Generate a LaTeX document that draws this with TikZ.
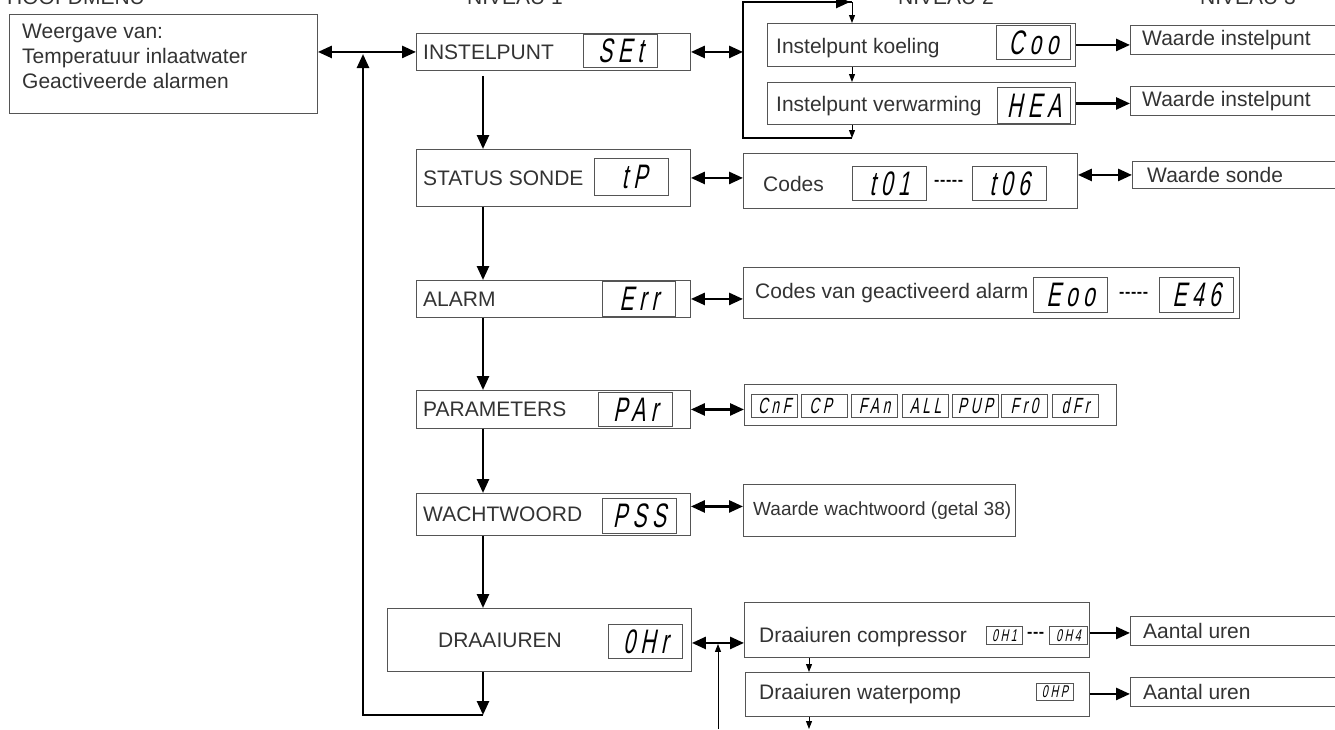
\documentclass[tikz,border=0pt]{standalone}
\usepackage{fontspec}
\setmainfont{Liberation Sans}
\newfontfamily\segfont[FakeSlant=0.2,FakeStretch=0.62,LetterSpace=16]{Liberation Sans}
\usetikzlibrary{arrows.meta,positioning}
\definecolor{boxgray}{HTML}{555555}
\definecolor{txtgray}{HTML}{333333}
\newcommand{\segdash}[1]{\foreach \k in {1,...,#1}{-\kern0.6pt}}
\tikzset{
  box/.style={draw=boxgray,line width=0.9pt,inner sep=0pt,anchor=north west},
  lbl/.style={text=txtgray,inner sep=0pt,font=\fontsize{21}{25}\selectfont},
  lblm/.style={lbl,font=\fontsize{19}{23}\selectfont},
  dashlbl/.style={lbl,text=black,font=\bfseries\fontsize{16}{16}\selectfont},
  disp/.style={draw=boxgray,line width=0.9pt,inner sep=0pt,anchor=north west,text=black,font=\segfont\fontsize{34}{34}\selectfont},
  dispm/.style={disp,font=\segfont\fontsize{22}{22}\selectfont},
  disps/.style={disp,font=\segfont\fontsize{17}{17}\selectfont},
  bigline/.style={line width=2.6pt},
  big/.style={bigline,-{Triangle[length=14pt,width=12pt]}},
  both/.style={bigline,{Triangle[length=14pt,width=12pt]}-{Triangle[length=14pt,width=12pt]}},
  thin/.style={line width=1pt,-{Triangle[length=8pt,width=6pt]}}
}
\begin{document}
\begin{tikzpicture}[x=1pt,y=-1pt]
\useasboundingbox (0,0) rectangle (1335,729);

\node[lbl,anchor=base west] (hhoofd) at (7,4) {HOOFDMENU};
\node[lbl,anchor=base] (hniv1) at (515,4) {NIVEAU 1};
\node[lbl,anchor=base] (hniv2) at (946,4) {NIVEAU 2};
\node[lbl,anchor=base] (hniv3) at (1248,4) {NIVEAU 3};

\node[box,minimum width=308,minimum height=99] (hoofd) at (9,14) {};
\node[lbl,anchor=north west,align=left] (hoofdtxt) at (22,24) {Weergave van:\\Temperatuur inlaatwater\\Geactiveerde alarmen};

\node[box,minimum width=274,minimum height=37] (instel) at (416,33) {};
\node[lbl,right=7pt of instel.west] (instellbl) {INSTELPUNT};
\node[disp,minimum width=74,minimum height=33] (dset) at (583,34) {SEt};

\node[box,minimum width=274,minimum height=57] (sonde) at (416,149) {};
\node[lbl,right=7pt of sonde.west] (sondelbl) {STATUS SONDE};
\node[disp,minimum width=74,minimum height=37] (dtp) at (594,158) {\hphantom{t}tP};

\node[box,minimum width=274,minimum height=37] (alarm) at (416,280) {};
\node[lbl,right=7pt of alarm.west] (alarmlbl) {ALARM};
\node[disp,minimum width=73,minimum height=35] (derr) at (602,281) {Err};

\node[box,minimum width=274,minimum height=38] (param) at (416,390) {};
\node[lbl,right=7pt of param.west] (paramlbl) {PARAMETERS};
\node[disp,minimum width=74,minimum height=34] (dpar) at (598,392) {PAr};

\node[box,minimum width=274,minimum height=42] (wacht) at (416,493) {};
\node[lbl,right=7pt of wacht.west] (wachtlbl) {WACHTWOORD};
\node[disp,minimum width=74,minimum height=35] (dpss) at (602,498) {PSS};

\node[box,minimum width=304,minimum height=63] (draai) at (387,608) {};
\node[lbl] (draailbl) at (500,640) {DRAAIUREN};
\node[disp,minimum width=74,minimum height=34] (dohr) at (608,624) {0Hr};

\node[box,minimum width=308,minimum height=43] (koel) at (767,23) {};
\node[lbl,right=9pt of koel.west,yshift=-3pt] (koellbl) {Instelpunt koeling};
\node[disp,minimum width=74,minimum height=34] (dcoo) at (996,25) {Coo};

\node[box,minimum width=308,minimum height=42] (verw) at (767,82) {};
\node[lbl,right=9pt of verw.west,yshift=-3pt] (verwlbl) {Instelpunt verwarming};
\node[disp,minimum width=73,minimum height=36] (dhea) at (997,87) {HEA};

\node[box,minimum width=334,minimum height=55] (codes) at (743,153) {};
\node[lbl,right=20pt of codes.west,yshift=-3pt] (codeslbl) {Codes};
\node[disp,minimum width=74,minimum height=34] (dt01) at (852,166) {t01};
\node[disp,minimum width=74,minimum height=34] (dt06) at (972,166) {t06};
\node[dashlbl] (dash1) at (949,183) {\segdash{5}};

\node[box,minimum width=496,minimum height=51] (alcodes) at (743,267) {};
\node[lbl,right=12pt of alcodes.west] (alcodeslbl) {Codes van geactiveerd alarm};
\node[disp,minimum width=74,minimum height=35] (deoo) at (1033,277) {Eoo};
\node[disp,minimum width=74,minimum height=35] (de46) at (1159,277) {E46};
\node[dashlbl] (dash2) at (1134,295) {\segdash{5}};

\node[box,minimum width=372,minimum height=41] (parcodes) at (744,384) {};
\node[dispm,minimum width=46,minimum height=23] (pcnf) at (751,394) {CnF};
\node[dispm,minimum width=46,minimum height=23] (pcp) at (801,394) {CP\hphantom{n}};
\node[dispm,minimum width=46,minimum height=23] (pfan) at (851,394) {FAn};
\node[dispm,minimum width=46,minimum height=23] (pall) at (902,394) {ALL};
\node[dispm,minimum width=46,minimum height=23] (ppup) at (952,394) {PUP};
\node[dispm,minimum width=46,minimum height=23] (pfro) at (1001,394) {Fr0};
\node[dispm,minimum width=46,minimum height=23] (pdfr) at (1052,394) {dFr};

\node[box,minimum width=272,minimum height=52] (wwaarde) at (743,484) {};
\node[lblm,right=10pt of wwaarde.west] (wwaardelbl) {Waarde wachtwoord (getal 38)};

\node[box,minimum width=345,minimum height=55] (comp) at (744,602) {};
\node[lbl,right=15pt of comp.west,yshift=-7pt] (complbl) {Draaiuren compressor};
\node[disps,minimum width=36,minimum height=18] (doh1) at (986,626) {0H1};
\node[disps,minimum width=38,minimum height=18] (doh4) at (1049,626) {0H4};
\node[dashlbl] (dash3) at (1036,635) {\segdash{3}};

\node[box,minimum width=344,minimum height=44] (pomp) at (745,672) {};
\node[lbl,right=14pt of pomp.west] (pomplbl) {Draaiuren waterpomp};
\node[disps,minimum width=37,minimum height=17] (dohp) at (1036,683) {0HP};

\node[box,minimum width=215,minimum height=29] (wi1) at (1130,25) {};
\node[lbl,right=12pt of wi1.west] (wi1lbl) {Waarde instelpunt};
\node[box,minimum width=215,minimum height=29] (wi2) at (1130,86) {};
\node[lbl,right=12pt of wi2.west] (wi2lbl) {Waarde instelpunt};
\node[box,minimum width=213,minimum height=27] (wsonde) at (1132,161) {};
\node[lbl,right=15pt of wsonde.west] (wsondelbl) {Waarde sonde};
\node[box,minimum width=215,minimum height=29] (uren1) at (1130,616) {};
\node[lbl,right=13pt of uren1.west] (uren1lbl) {Aantal uren};
\node[box,minimum width=215,minimum height=29] (uren2) at (1130,677) {};
\node[lbl,right=13pt of uren2.west] (uren2lbl) {Aantal uren};

\coordinate (spine) at (483,0);
\coordinate (loopc) at (483,715);
\coordinate (loopl) at (363,715);
\coordinate (junct) at (363,54);
\coordinate (brtop) at (743,2);
\coordinate (brbot) at (743,138);
\coordinate (tapt) at (852,2);
\coordinate (tapb) at (852,138);
\coordinate (ctap) at (809,0);
\coordinate (hbot) at (718,729);
\coordinate (pbot) at (809,729);

\draw[both] (instel.west -| hoofd.east) -- (instel.west);
\draw[big] (loopc) -- (loopl) -- (junct);
\draw[big] ([yshift=-5pt]instel.south -| spine) -- (sonde.north -| spine);
\draw[big] (sonde.south -| spine) -- (alarm.north -| spine);
\draw[big] (alarm.south -| spine) -- (param.north -| spine);
\draw[big] (param.south -| spine) -- (wacht.north -| spine);
\draw[big] (wacht.south -| spine) -- (draai.north -| spine);
\draw[big] (draai.south -| spine) -- (loopc);

\draw[both] (instel.east) -- (instel.east -| brtop);
\draw[bigline] (tapb) -- (brbot) -- (brtop) -- (tapt);
\draw[big] (brtop) -- ([xshift=-2pt]tapt);
\draw[thin] (tapt) -- (koel.north -| tapt);
\draw[thin] (koel.south -| tapt) -- (verw.north -| tapt);
\draw[thin] (verw.south -| tapt) -- (tapb);
\draw[big] (koel.east) -- (koel.east -| wi1.west);
\draw[big] (verw.east) -- (verw.east -| wi2.west);

\draw[both] (sonde.east) -- (sonde.east -| codes.west);
\draw[both] (wsonde.west -| codes.east) -- (wsonde.west);
\draw[both] (alarm.east) -- (alarm.east -| alcodes.west);
\draw[both] (param.east) -- (param.east -| parcodes.west);
\draw[both] ([yshift=4pt]wwaarde.west -| wacht.east) -- ([yshift=4pt]wwaarde.west);

\draw[both] ([yshift=-3pt]draai.east) -- ([yshift=-3pt]draai.east -| comp.west);
\draw[thin] (hbot) -- ([yshift=-4pt]draai.east -| hbot);
\draw[big] ([yshift=-2pt]uren1.west -| comp.east) -- ([yshift=-2pt]uren1.west);
\draw[big] ([yshift=-2pt]uren2.west -| pomp.east) -- ([yshift=-2pt]uren2.west);
\draw[thin] (comp.south -| ctap) -- (pomp.north -| ctap);
\draw[thin] (pomp.south -| ctap) -- (pbot);
\end{tikzpicture}
\end{document}
